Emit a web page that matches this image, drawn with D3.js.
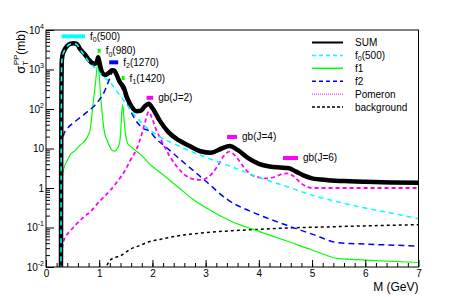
<!DOCTYPE html>
<html>
<head>
<meta charset="utf-8">
<script src="https://cdn.jsdelivr.net/npm/d3@7"></script>
<style>
  body { margin: 0; background: #fff; }
  text { font-family: "Liberation Sans", Arial, Helvetica, sans-serif; fill: #000; }
</style>
</head>
<body>
<script>
// cross sections (M in GeV, sigma in mb)
var sumM = [0.28, 0.285, 0.29, 0.295, 0.31, 0.34, 0.4, 0.46, 0.52, 0.58, 0.64, 0.72, 0.8, 0.87, 0.92, 0.955, 0.98, 1.005, 1.04, 1.08, 1.12, 1.18, 1.24, 1.28, 1.33, 1.38, 1.42, 1.46, 1.52, 1.6, 1.7, 1.78, 1.85, 1.93, 2.0, 2.14, 2.3, 2.5, 2.7, 2.9, 3.1, 3.3, 3.45, 3.6, 3.8, 4.0, 4.2, 4.4, 4.55, 4.7, 4.85, 5.0, 5.3, 5.7, 6.0, 6.5, 7.0];
var sumV = [0.001, 5, 300, 1500, 2300, 3000, 4000, 4500, 4600, 4400, 3300, 2500, 1800, 1450, 1400, 1550, 2050, 1500, 950, 760, 730, 820, 960, 950, 720, 500, 420, 350, 200, 120, 88, 90, 115, 135, 105, 50, 26, 16, 11.5, 8.5, 7.8, 10, 11.5, 9.2, 5.7, 4.1, 3.5, 3.3, 3.2, 2.6, 2.05, 1.75, 1.58, 1.48, 1.43, 1.38, 1.35];

var f0M = [0.28, 0.285, 0.29, 0.295, 0.31, 0.34, 0.4, 0.46, 0.52, 0.58, 0.64, 0.72, 0.8, 0.9, 1.0, 1.1, 1.2, 1.35, 1.5, 1.65, 1.8, 2.08, 2.5, 3.0, 3.5, 4.0, 4.5, 5.0, 5.5, 6.0, 6.5, 7.0];
var f0V = [0.001, 5, 300, 1450, 2200, 2900, 3900, 4400, 4500, 4300, 3200, 2300, 1600, 1150, 850, 620, 480, 260, 140, 75, 44, 22, 11.5, 6, 3.4, 1.86, 1.12, 0.66, 0.44, 0.31, 0.23, 0.166];

var f1M = [0.28, 0.285, 0.29, 0.3, 0.325, 0.4, 0.45, 0.55, 0.65, 0.75, 0.83, 0.88, 0.93, 0.975, 1.02, 1.06, 1.1, 1.15, 1.2, 1.25, 1.29, 1.33, 1.37, 1.4, 1.42, 1.44, 1.46, 1.49, 1.54, 1.6, 1.76, 2.0, 2.14, 2.5, 2.76, 3.0, 3.5, 4.0, 4.5, 5.0, 5.5, 6.0, 7.0];
var f1V = [0.001, 0.05, 0.3, 1.2, 2.8, 5, 6.8, 9, 12.5, 17, 30, 120, 450, 1500, 290, 68, 25, 16, 11, 8.8, 8.6, 9.5, 12, 22, 70, 130, 70, 25, 13, 11, 7.4, 3.5, 2.5, 1.0, 0.52, 0.32, 0.14, 0.08, 0.047, 0.027, 0.0163, 0.015, 0.013];

var f2M = [0.28, 0.285, 0.29, 0.3, 0.33, 0.4, 0.5, 0.6, 0.7, 0.8, 0.92, 1.0, 1.1, 1.18, 1.24, 1.28, 1.32, 1.38, 1.45, 1.55, 1.65, 1.8, 1.95, 2.08, 2.2, 2.5, 3.0, 3.4, 4.0, 4.5, 5.0, 5.5, 6.0, 7.0];
var f2V = [0.001, 0.5, 5, 14, 22, 32, 43, 55, 70, 90, 125, 170, 280, 520, 820, 900, 780, 480, 280, 120, 62, 34, 27, 17, 12.5, 5.6, 1.5, 0.52, 0.21, 0.117, 0.068, 0.041, 0.038, 0.034];

var pomM = [0.28, 0.29, 0.295, 0.3, 0.33, 0.36, 0.45, 0.58, 0.7, 0.83, 1.0, 1.2, 1.35, 1.48, 1.6, 1.7, 1.78, 1.86, 1.93, 2.0, 2.07, 2.14, 2.23, 2.33, 2.45, 2.6, 2.75, 2.9, 3.05, 3.2, 3.33, 3.45, 3.57, 3.7, 3.85, 4.0, 4.15, 4.3, 4.45, 4.55, 4.65, 4.8, 4.92, 5.0, 6.0, 7.0];
var pomV = [0.0005, 0.003, 0.01, 0.025, 0.045, 0.057, 0.08, 0.125, 0.18, 0.25, 0.45, 0.85, 1.5, 2.7, 5.5, 9.5, 19, 45, 85, 55, 30, 19, 11, 6.2, 3.6, 2.2, 1.7, 1.6, 1.9, 3.2, 6.2, 8.3, 6.2, 3.6, 2.2, 1.85, 1.75, 1.9, 2.3, 2.35, 2.0, 1.3, 1.05, 1.0, 1.0, 1.0];

var bgM = [1.1, 1.13, 1.2, 1.3, 1.39, 1.58, 1.76, 1.95, 2.14, 2.5, 2.9, 3.5, 3.95, 4.5, 5.33, 6.0, 7.0];
var bgV = [0.008, 0.01, 0.0145, 0.0175, 0.019, 0.028, 0.035, 0.044, 0.05, 0.062, 0.072, 0.083, 0.089, 0.097, 0.104, 0.11, 0.118];

// resonance labels: name, subscript, rest, bar from m1 to m2 at height v
var noteName = ["f", "f", "f", "f", "gb(J=2)", "gb(J=4)", "gb(J=6)"];
var noteSub = ["0", "0", "2", "1", "", "", ""];
var noteRest = ["(500)", "(980)", "(1270)", "(1420)", "", "", ""];
var noteM1 = [0.295, 0.97, 1.188, 1.421, 1.89, 3.402, 4.453];
var noteM2 = [0.733, 1.027, 1.357, 1.477, 2.014, 3.59, 4.735];
var noteV = [6900, 2985, 1517, 607, 192, 19.6, 5.75];
var noteColor = ["#00ffff", "#00ff00", "#0000ff", "#00ff00", "#ff00ff", "#ff00ff", "#ff00ff"];

var xTicks = [0, 1, 2, 3, 4, 5, 6, 7];
var yExp = [-2, -1, 0, 1, 2, 3, 4];

var W = 465, H = 297;
var L = 46, R = 418.5, T = 30, B = 267;

var svg = d3.select("body").append("svg")
    .attr("width", W)
    .attr("height", H);

var x = d3.scaleLinear().domain([0, 7]).range([L, R]);
var y = d3.scaleLog().domain([0.01, 10000]).range([B, T]);

svg.append("defs").append("clipPath").attr("id", "clip")
    .append("rect").attr("x", L).attr("y", T).attr("width", R - L).attr("height", B - T);

var series = [
    {m: bgM, v: bgV, color: "#000", w: 1.5, dash: "3,3"},
    {m: f1M, v: f1V, color: "#00ff00", w: 1.2, dash: null},
    {m: f2M, v: f2V, color: "#0000ff", w: 1.5, dash: "6,4"},
    {m: pomM, v: pomV, color: "#ff00ff", w: 1.8, dash: "4,3"},
    {m: sumM, v: sumV, color: "#000", w: 4.5, dash: null},
    {m: f0M, v: f0V, color: "#00ffff", w: 1.5, dash: "5,4"}
];

var line = d3.line()
    .x(function (d) { return x(d[0]); })
    .y(function (d) { return y(d[1]); })
    .curve(d3.curveMonotoneX);

var g = svg.append("g").attr("clip-path", "url(#clip)");
series.forEach(function (s) {
    var pts = s.m.map(function (m, i) { return [m, s.v[i]]; });
    g.append("path")
        .datum(pts)
        .attr("d", line)
        .attr("fill", "none")
        .attr("stroke", s.color)
        .attr("stroke-width", s.w)
        .attr("stroke-dasharray", s.dash)
        .attr("stroke-linejoin", "round");
});

// x axis, ticks inside the frame
svg.append("g")
    .attr("transform", "translate(0," + B + ")")
    .call(d3.axisBottom(x).tickValues(xTicks).tickFormat(d3.format("d"))
        .tickSizeInner(-7).tickSizeOuter(0).tickPadding(3));
svg.append("g")
    .attr("transform", "translate(0," + B + ")")
    .call(d3.axisBottom(x).tickValues(d3.range(0, 35).map(function (i) { return i / 5; }))
        .tickSizeInner(-4).tickSizeOuter(0).tickFormat(""));

// y axis, log ticks
var minor = [];
yExp.forEach(function (e) {
    for (var k = 2; k <= 9; k++) {
        var v = k * Math.pow(10, e);
        if (v <= 10000) minor.push(v);
    }
});
svg.append("g")
    .attr("transform", "translate(" + L + ",0)")
    .call(d3.axisLeft(y).tickValues(yExp.map(function (e) { return Math.pow(10, e); }))
        .tickSizeInner(-8).tickSizeOuter(0).tickFormat(""));
svg.append("g")
    .attr("transform", "translate(" + L + ",0)")
    .call(d3.axisLeft(y).tickValues(minor).tickSizeInner(-4).tickSizeOuter(0).tickFormat(""));

svg.selectAll(".domain").remove();
svg.selectAll(".tick line").attr("stroke", "#000");
svg.selectAll(".tick text").attr("font-size", 10).attr("font-family", "Liberation Sans, Arial, sans-serif");

yExp.forEach(function (e) {
    var t = svg.append("text")
        .attr("x", L - 2)
        .attr("y", y(Math.pow(10, e)) + 3.5)
        .attr("text-anchor", "end")
        .attr("font-size", 10);
    if (e === 0) t.text("1");
    else if (e === 1) t.text("10");
    else {
        t.append("tspan").text("10");
        t.append("tspan").attr("dy", -5).attr("font-size", 7).text(e);
    }
});

// frame
svg.append("rect")
    .attr("x", L).attr("y", T)
    .attr("width", R - L).attr("height", B - T)
    .attr("fill", "none").attr("stroke", "#000").attr("stroke-width", 1);

// axis titles
svg.append("text")
    .attr("x", R).attr("y", 291)
    .attr("text-anchor", "end")
    .attr("font-size", 12)
    .text("M (GeV)");

var yt = svg.append("text")
    .attr("transform", "translate(25," + T + ") rotate(-90)")
    .attr("text-anchor", "end")
    .attr("font-size", 12);
yt.append("tspan").attr("font-size", 13).text("σ");
yt.append("tspan").attr("font-size", 8).attr("dy", 3).text("T");
yt.append("tspan").attr("font-size", 8).attr("dx", -4.5).attr("dy", -9).text("PP");
yt.append("tspan").attr("dy", 6).text("(mb)");

// resonance markers
noteName.forEach(function (n, i) {
    var cy = y(noteV[i]);
    svg.append("rect")
        .attr("x", x(noteM1[i]))
        .attr("y", cy - 2)
        .attr("width", x(noteM2[i]) - x(noteM1[i]))
        .attr("height", 4)
        .attr("fill", noteColor[i]);
    var t = svg.append("text")
        .attr("x", x(noteM2[i]) + 5)
        .attr("y", cy + 3.5)
        .attr("font-size", 10);
    t.append("tspan").text(n);
    if (noteSub[i]) {
        t.append("tspan").attr("font-size", 7).attr("dy", 2.5).text(noteSub[i]);
        t.append("tspan").attr("dy", -2.5).text(noteRest[i]);
    }
});

// legend
var legNames = ["SUM", "f0(500)", "f1", "f2", "Pomeron", "background"];
var legStyle = [
    {color: "#000", w: 2, dash: null},
    {color: "#00ffff", w: 1.5, dash: "4,3"},
    {color: "#00ff00", w: 1.5, dash: null},
    {color: "#0000ff", w: 1.5, dash: "4,3"},
    {color: "#ff00ff", w: 1, dash: "1,1"},
    {color: "#000", w: 1.5, dash: "3,2"}
];
legNames.forEach(function (n, i) {
    var ly = 42.5 + i * 12.9;
    svg.append("line")
        .attr("x1", 312).attr("x2", 343)
        .attr("y1", ly).attr("y2", ly)
        .attr("stroke", legStyle[i].color)
        .attr("stroke-width", legStyle[i].w)
        .attr("stroke-dasharray", legStyle[i].dash);
    var t = svg.append("text")
        .attr("x", 355).attr("y", ly + 3.5)
        .attr("font-size", 10);
    if (n === "f0(500)") {
        t.append("tspan").text("f");
        t.append("tspan").attr("font-size", 7).attr("dy", 2.5).text("0");
        t.append("tspan").attr("dy", -2.5).text("(500)");
    } else {
        t.text(n);
    }
});
</script>
</body>
</html>
